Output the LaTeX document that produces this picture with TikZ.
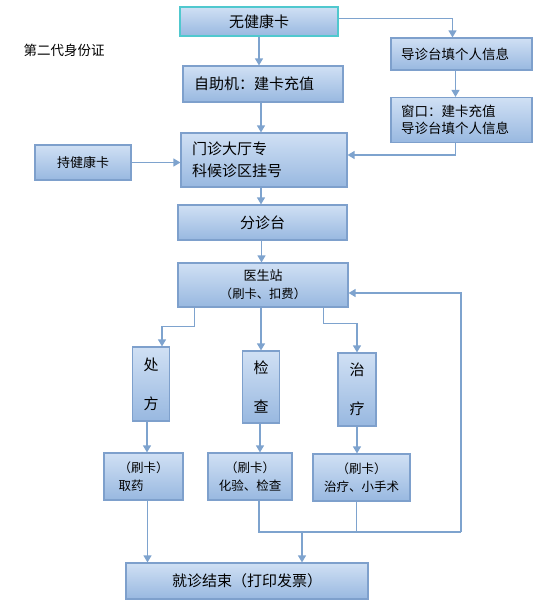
\documentclass[tikz,border=0pt]{standalone}
\usepackage{fontspec}
\setmainfont{Noto Sans CJK SC}
\usepackage{tikz}
\usetikzlibrary{arrows.meta, positioning}

\definecolor{boxtop}{RGB}{208,224,244}
\definecolor{boxbot}{RGB}{152,184,224}
\definecolor{boxedge}{RGB}{126,160,204}
\definecolor{flow}{RGB}{126,163,206}
\definecolor{cyanedge}{RGB}{80,200,206}

\tikzset{
  box/.style={draw=boxedge, line width=1.1pt, top color=boxtop, bottom color=boxbot, inner sep=0pt, font=\fontsize{15}{18}\selectfont},
  leftbox/.style={box, align=left, inner xsep=10pt},
  smallbox/.style={box, align=center, font=\fontsize{12.5}{18}\selectfont},
  vbox/.style={box, align=center, font=\fontsize{15}{39}\selectfont},
  link/.style={draw=flow, line width=1.2pt},
  arrow/.style={link, -{Triangle[length=7pt,width=8pt]}}
}

\begin{document}
\begin{tikzpicture}[x=1pt, y=-1pt]
        \useasboundingbox (0,0) rectangle (559,608);

        % Entry
        \node (nocard) [box, draw=cyanedge, minimum width=158pt, minimum height=29pt] at (259,21.5) {无健康卡};
        \node (idcard) [font=\fontsize{13.5}{16}\selectfont] at (64,50) {第二代身份证};

        % Guide desk and window
        \node (guide) [leftbox, font=\fontsize{13.5}{17}\selectfont, text width=121pt, minimum height=32pt] at (461.5,54) {导诊台填个人信息};
        \node (window) [leftbox, font=\fontsize{13.5}{17}\selectfont, text width=121pt, minimum height=45pt] at (461.5,120) {窗口：建卡充值\\导诊台填个人信息};

        % Self service and registration
        \node (selfsvc) [leftbox, inner xsep=11pt, text width=138pt, minimum height=36pt] at (263,84) {自助机：建卡充值};
        \node (clinic) [leftbox, inner xsep=11pt, font=\fontsize{15}{22}\selectfont, text width=144pt, minimum height=54pt] at (264,160) {门诊大厅专\\科候诊区挂号};
        \node (havecard) [box, font=\fontsize{13}{16}\selectfont, minimum width=96pt, minimum height=35pt] at (83,162.5) {持健康卡};

        % Triage and doctor
        \node (triage) [box, minimum width=169pt, minimum height=35pt] at (262.5,222.5) {分诊台};
        \node (doctor) [box, align=center, font=\fontsize{13}{18}\selectfont, minimum width=170pt, minimum height=44pt] at (263,285) {医生站\\{\fontsize{12.3}{18}\selectfont （刷卡、扣费）}};

        % Orders
        \node (rx) [vbox, minimum width=37pt, minimum height=74pt] at (151,384) {处\\方};
        \node (exam) [vbox, minimum width=37pt, minimum height=72pt] at (261,387) {检\\查};
        \node (treat) [vbox, minimum width=38pt, minimum height=73pt] at (357,389.5) {治\\疗};

        % Card payment
        \node (drug) [smallbox, align=left, minimum width=79pt, minimum height=47pt] at (143.5,476.5) {（刷卡）\\取药};
        \node (lab) [smallbox, minimum width=84pt, minimum height=47pt] at (250,476.5) {（刷卡）\\化验、检查};
        \node (surgery) [smallbox, minimum width=97pt, minimum height=47pt] at (361.5,477.5) {（刷卡）\\治疗、小手术};

        % Exit
        \node (finish) [box, minimum width=242pt, minimum height=36pt] at (247,581) {就诊结束（打印发票）};

        % Bus coordinates
        \coordinate (bus) at (302,532);
        \coordinate (busend) at (461,532);

        % Arrows
        \draw[arrow] ([yshift=3pt]nocard.east) -| ([xshift=-9pt]guide.north);
        \draw[arrow] ([xshift=-6pt]guide.south) -- ([xshift=-6pt]window.north);
        \draw[arrow] ([xshift=-6pt]window.south) |- ([yshift=5pt]clinic.east);
        \draw[arrow] (nocard.south) -- (nocard.south |- selfsvc.north);
        \draw[arrow] ([xshift=-2pt]selfsvc.south) -- ([xshift=-2pt]selfsvc.south |- clinic.north);
        \draw[arrow] (havecard.east) -- (havecard.east -| clinic.west);
        \draw[arrow] ([xshift=-3pt]clinic.south) -- ([xshift=-3pt]clinic.south |- triage.north);
        \draw[arrow] ([xshift=-1pt]triage.south) -- ([xshift=-1pt]triage.south |- doctor.north);

        \draw[arrow] ([xshift=17pt]doctor.south west) -- ++(0,19) -| ([xshift=11pt]rx.north);
        \draw[arrow] (exam.north |- doctor.south) -- (exam.north);
        \draw[arrow] ([xshift=-25pt]doctor.south east) -- ++(0,16) -| (treat.north);

        \draw[arrow] ([xshift=-4pt]rx.south) -- ([xshift=-4pt]rx.south |- drug.north);
        \draw[arrow] ([xshift=-1pt]exam.south) -- ([xshift=-1pt]exam.south |- lab.north);
        \draw[arrow] (treat.south) -- (treat.south |- surgery.north);

        \draw[arrow] ([xshift=4pt]drug.south) -- ([xshift=4pt]drug.south |- finish.north);
        \draw[link] ([xshift=9pt]lab.south) |- (busend);
        \draw[link] ([xshift=-5pt]surgery.south) -- ([xshift=-5pt]surgery.south |- bus);
        \draw[arrow] (busend) |- ([yshift=-8pt]doctor.east);
        \draw[arrow] (bus) -- (bus |- finish.north);
    \end{tikzpicture}
\end{document}
